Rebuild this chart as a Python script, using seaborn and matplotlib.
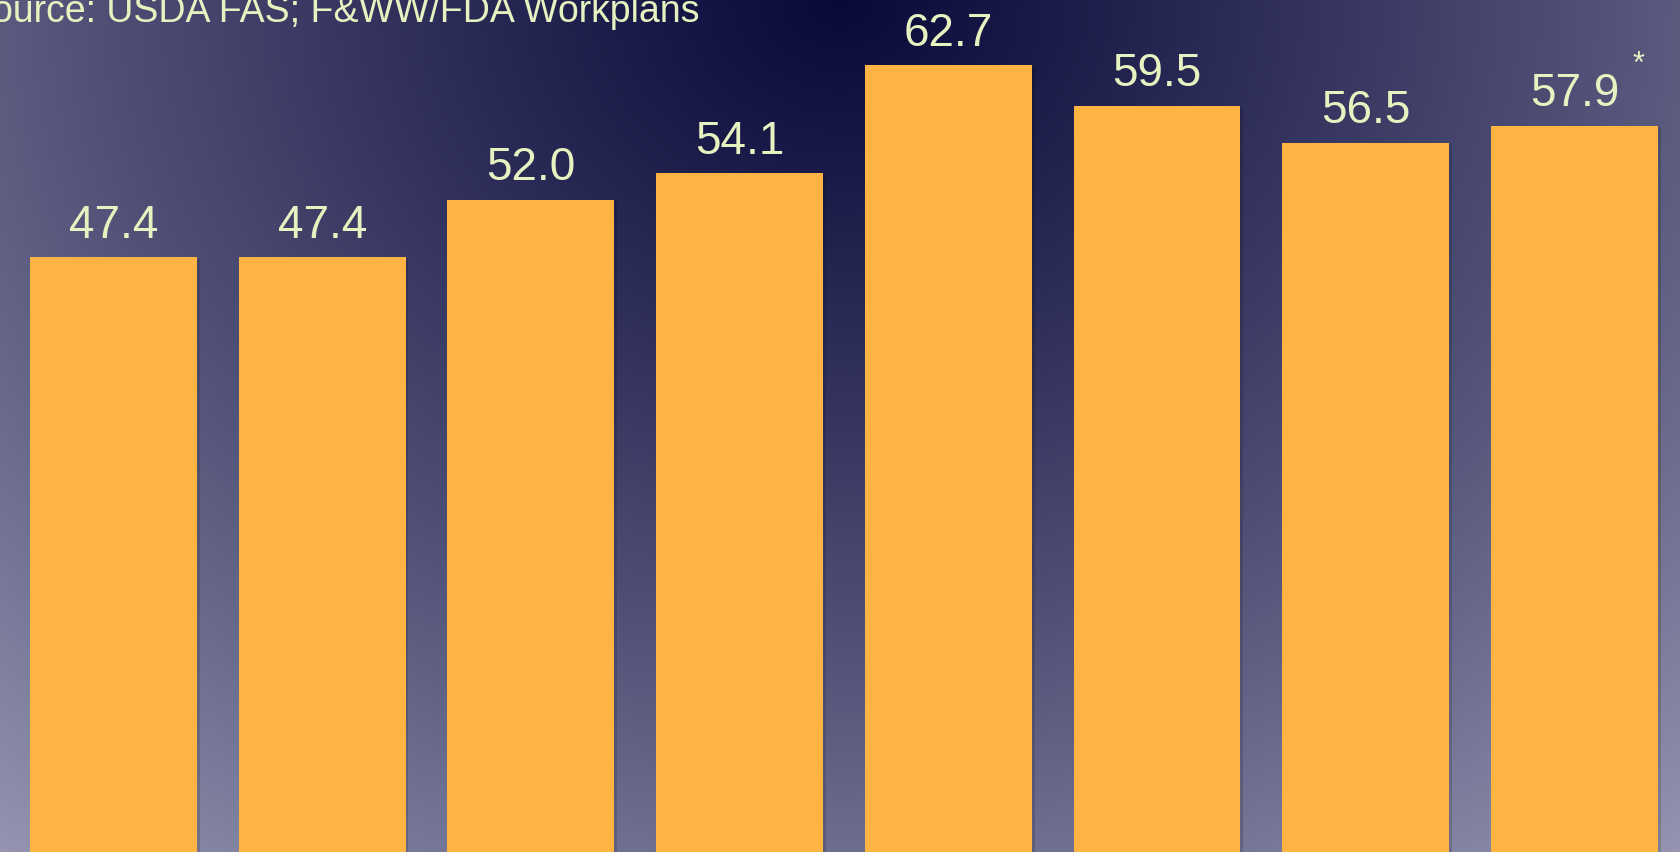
import numpy as np
import pandas as pd
import seaborn as sns
import matplotlib.pyplot as plt
import matplotlib.patheffects as pe

# values (x labels are cut off in the reference)
bars = ['b1', 'b2', 'b3', 'b4', 'b5', 'b6', 'b7', 'b8']
values = [47.4, 47.4, 52.0, 54.1, 62.7, 59.5, 56.5, 57.9]
source = 'Source: USDA FAS; F&WW/FDA Workplans'

W, H, DPI = 1681, 853, 100
BAR = '#FDB443'
TXT = '#E6F2C0'

sns.set_theme(style='white')
plt.rcParams['font.family'] = ['Liberation Sans', 'DejaVu Sans']

fig = plt.figure(figsize=(W / DPI, H / DPI), dpi=DPI)

# radial-ish background, darkest at top centre
yy, xx = np.mgrid[0:H, 0:W]
u = np.sqrt(((xx - 840) / 840.0) ** 2 + (yy / 720.0) ** 2)
r = 10 + 65 * u + 16 * u ** 2
b = 58 + 57.3 * u + 12.7 * u ** 2
bg = np.clip(np.dstack([r, r, b]) / 255.0, 0, 1)
bg_ax = fig.add_axes([0, 0, 1, 1], zorder=0)
bg_ax.imshow(bg, aspect='auto', interpolation='bilinear')
bg_ax.axis('off')

ax = fig.add_axes([0, 0, 1, 1], zorder=1)
ax.patch.set_alpha(0)
df = pd.DataFrame({'bar': bars, 'value': values})
sns.barplot(data=df, x='bar', y='value', color=BAR, saturation=1, width=0.8,
            linewidth=0, edgecolor='none', ax=ax)

# soft drop shadow on the bars
for p in ax.patches:
    p.set_path_effects([pe.withSimplePatchShadow(offset=(2, -1), shadow_rgbFace='black', alpha=0.14)])

for i, v in enumerate(values):
    ax.annotate(f'{v:.1f}', (i, v), xytext=(0, 15), textcoords='offset points',
                ha='center', va='baseline', fontsize=33, color=TXT)

ax.set_xlim(-0.544, 7.511)
ax.set_ylim(0, 68)
ax.axis('off')

# source line (cut off at the left edge) and the asterisk note
fig.text(-33 / W, 1 - 22 / H, source, ha='left', va='baseline', fontsize=27, color=TXT)
fig.text(1639 / W, 1 - 73 / H, '*', ha='center', va='baseline', fontsize=22, color=TXT)

fig.savefig('out.png', dpi=DPI)
